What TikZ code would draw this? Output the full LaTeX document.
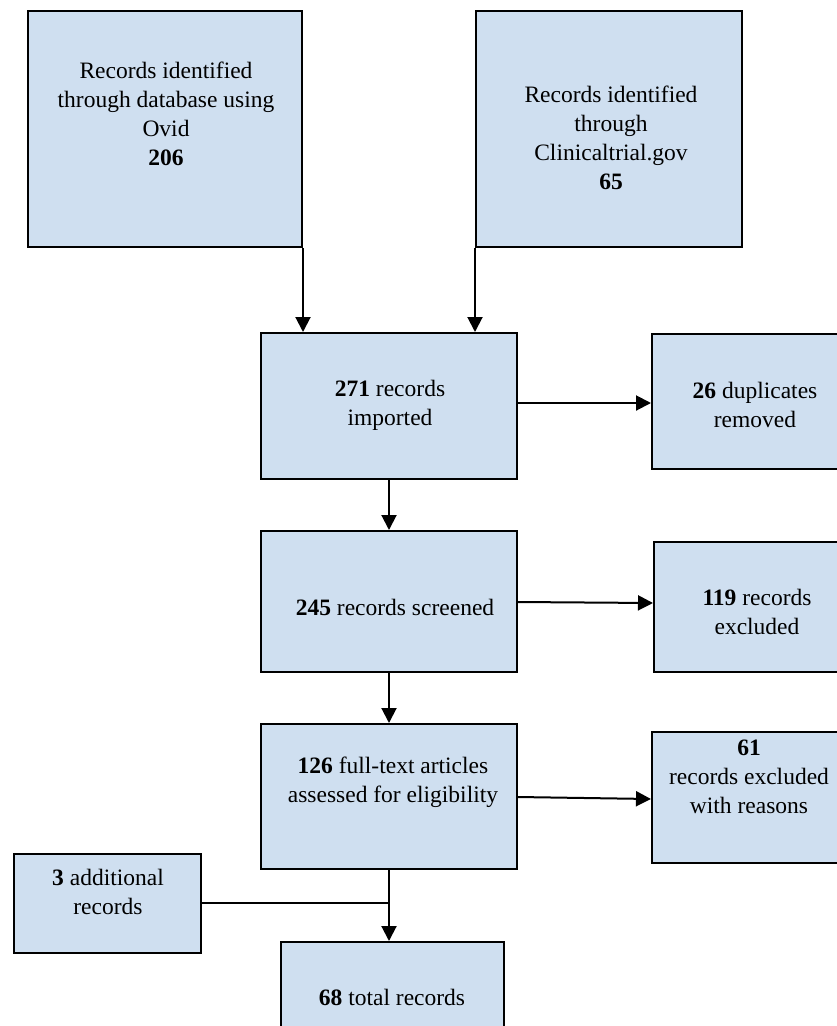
\documentclass[tikz,border=0pt]{standalone}
\usepackage{fontspec}
\setmainfont{Liberation Serif}
\usetikzlibrary{arrows.meta}
\definecolor{boxfill}{RGB}{207,223,240}
\begin{document}
\begin{tikzpicture}[x=1pt,y=-1pt,
  box/.style={draw=black,line width=2pt,fill=boxfill,rectangle,inner sep=0pt},
  lbl/.style={align=center,font=\fontsize{23.5}{29}\selectfont,inner sep=0pt},
  conn/.style={line width=2pt,-{Triangle[length=15pt,width=15pt]}},
  link/.style={line width=2pt}]
\useasboundingbox (0,0) rectangle (837,1026);
% boxes
\node[box,minimum width=274pt,minimum height=236pt] (b1) at (165,129) {};
\node[box,minimum width=266pt,minimum height=236pt] (b2) at (609,129) {};
\node[box,minimum width=256pt,minimum height=146pt] (b3) at (389,406) {};
\node[box,minimum width=208pt,minimum height=135pt] (b4) at (756,401.5) {};
\node[box,minimum width=256pt,minimum height=141pt] (b5) at (389,601.5) {};
\node[box,minimum width=206pt,minimum height=130pt] (b6) at (757,607) {};
\node[box,minimum width=256pt,minimum height=145pt] (b7) at (389,796.5) {};
\node[box,minimum width=208pt,minimum height=131pt] (b8) at (756,797.5) {};
\node[box,minimum width=187pt,minimum height=99pt] (b9) at (107.5,903.5) {};
\node[box,minimum width=223pt,minimum height=118pt] (b10) at (392.5,1001) {};
% texts
\node[lbl] (t1) at (166,113.5) {Records identified\\through database using\\Ovid\\\textbf{206}};
\node[lbl] (t2) at (611,138) {Records identified\\through\\Clinicaltrial.gov\\\textbf{65}};
\node[lbl] (t3) at (390,405) {\textbf{271} records\\imported};
\node[lbl] (t4) at (755,405) {\textbf{26} duplicates\\removed};
\node[lbl] (t5) at (395,607) {\textbf{245} records screened};
\node[lbl] (t6) at (757,612) {\textbf{119} records\\excluded};
\node[lbl] (t7) at (393,782) {\textbf{126} full-text articles\\assessed for eligibility};
\node[lbl] (t8) at (749,777) {\textbf{61}\\records excluded\\with reasons};
\node[lbl] (t9) at (108,892) {\textbf{3} additional\\records};
\node[lbl] (t10) at (392,997) {\textbf{68} total records};
% connectors
\coordinate (j) at (389,903);
\draw[conn] (b1.south east) -- (b1.south east |- b3.north);
\draw[conn] (b2.south west) -- (b2.south west |- b3.north);
\draw[conn] (b3.east |- 0,403) -- (b4.west |- 0,403);
\draw[conn] (b3.south) -- (b5.north);
\draw[conn] (b5.east |- 0,602) -- (b6.west |- 0,603);
\draw[conn] (b5.south) -- (b7.north);
\draw[conn] (b7.east |- 0,797) -- (b8.west |- 0,799);
\draw[conn] (b7.south) -- (b7.south |- b10.north);
\draw[link] (b9.east |- j) -- (j);
\end{tikzpicture}
\end{document}
